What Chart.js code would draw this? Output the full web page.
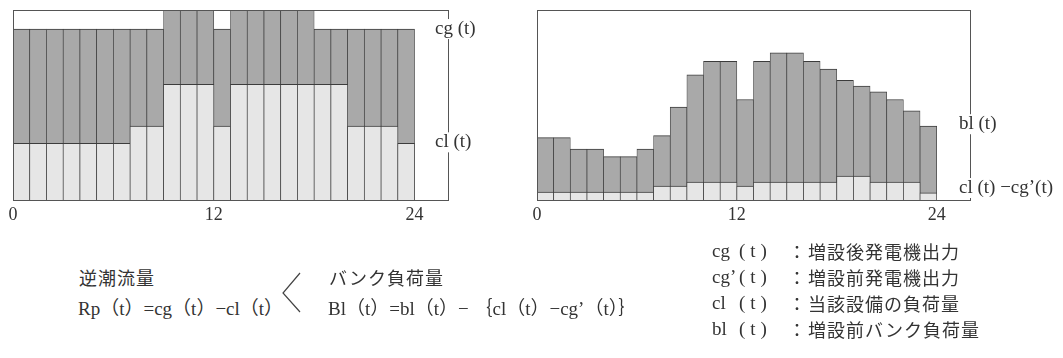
<!DOCTYPE html>
<html>
<head>
<meta charset="utf-8">
<script src="https://cdn.jsdelivr.net/npm/chart.js@4"></script>
<style>
  body { margin: 0; background: #fff; width: 1063px; height: 358px; overflow: hidden; position: relative; }
  canvas { position: absolute; top: 0; }
  .t { position: absolute; color: #333; font-family: "Liberation Serif", "Noto Sans CJK JP", serif; font-size: 19px; white-space: nowrap; line-height: 20px; }
  .jp { font-family: "Noto Sans CJK JP", sans-serif; font-size: 18px; letter-spacing: 1px; }
</style>
</head>
<body>
<canvas id="leftChart" width="530" height="230" style="left:0px"></canvas>
<canvas id="rightChart" width="539" height="230" style="left:524px"></canvas>

<div class="t jp" style="left:79px; top:267px;">逆潮流量</div>
<div class="t" style="left:78px; top:299px;">Rp（t）=cg（t）−cl（t）</div>
<svg style="position:absolute; left:0; top:0;" width="1063" height="358">
  <polyline points="300,273 283,293 300,312" fill="none" stroke="#444" stroke-width="1.2"/>
</svg>
<div class="t jp" style="left:329px; top:267px;">バンク負荷量</div>
<div class="t" style="left:328px; top:299px;">Bl（t）=bl（t）− ｛cl（t）−cg’（t）｝</div>

<div id="legendBox"></div>

<script>
// hours 0..23, each bar covers one hour
var hours = [0,1,2,3,4,5,6,7,8,9,10,11,12,13,14,15,16,17,18,19,20,21,22,23];
var tickLabels = [0, 12, 24];

// left: cl(t) and cg(t)
var clLeft = [30,30,30,30,30,30,30,39,39,61,61,61,39,61,61,61,61,61,61,61,39,39,39,30];
var cgLeft = [90,90,90,90,90,90,90,90,90,100,100,100,90,100,100,100,100,100,90,90,90,90,90,90];

// right: bl(t) and cl(t)-cg'(t)
var blRight = [33,33,27,27,23,23,27,34,49,66,73,73,53,73,77.5,77.5,73,69,63,60,57,53,47,39];
var netRight = [4.4,4.4,4.4,4.4,4.4,4.4,4.4,7.5,7.5,9.6,9.6,9.6,7.5,9.6,9.6,9.6,9.6,9.6,12.8,12.8,9.6,9.6,9.6,4];

// legend text under the right chart
var legendKeys = ['cg', 'cg’', 'cl', 'bl'];
var legendDescs = ['増設後発電機出力', '増設前発電機出力', '当該設備の負荷量', '増設前バンク負荷量'];

var LINE = '#3c3c3c';
var DARK = '#a9a9a9';
var LIGHT = '#e6e6e6';
var FONT = '"Liberation Serif", "Noto Sans CJK JP", serif';

var framePlugin = {
    id: 'frame',
    afterDatasetsDraw: function(chart, args, opts) {
        var ctx = chart.ctx;
        var a = chart.chartArea;
        ctx.save();
        ctx.strokeStyle = '#555';
        ctx.lineWidth = 1;
        ctx.strokeRect(Math.round(a.left) + 0.5, Math.round(a.top) + 0.5,
                       Math.round(a.right - a.left), Math.round(a.bottom - a.top));
        ctx.font = '19px ' + FONT;
        ctx.textBaseline = 'middle';
        opts.labels.forEach(function(l) {
            var y = chart.scales.y.getPixelForValue(l.value);
            var x = a.right - opts.offset;
            var w = ctx.measureText(l.text).width;
            ctx.fillStyle = '#fff';
            ctx.fillRect(x - 2, y - 10, w + 4, 20);
            ctx.fillStyle = '#333';
            ctx.fillText(l.text, x, y);
        });
        ctx.restore();
    }
};

function barSet(values, color) {
    return {
        data: values.map(function(v, i) { return { x: hours[i] + 0.5, y: v }; }),
        backgroundColor: color,
        borderColor: LINE,
        borderWidth: { top: 1, left: 0.7, right: 0.7, bottom: 0 },
        borderSkipped: 'start',
        grouped: false,
        categoryPercentage: 1,
        barPercentage: 1
    };
}

function makeChart(id, low, high, labels, padRight, offset) {
    var ctx = document.getElementById(id).getContext('2d');
    return new Chart(ctx, {
        type: 'bar',
        data: { datasets: [barSet(low, LIGHT), barSet(high, DARK)] },
        options: {
            responsive: false,
            animation: false,
            layout: { padding: { left: 13, right: padRight, top: 10, bottom: 0 } },
            scales: {
                x: {
                    type: 'linear',
                    offset: false,
                    min: 0,
                    max: 26,
                    grid: { display: false, drawTicks: false },
                    border: { display: false },
                    afterBuildTicks: function(axis) {
                        axis.ticks = tickLabels.map(function(v) { return { value: v }; });
                    },
                    ticks: { color: '#333', padding: 4, maxRotation: 0, font: { family: FONT, size: 18 } }
                },
                y: { min: 0, max: 100, display: false }
            },
            plugins: {
                legend: { display: false },
                tooltip: { enabled: false },
                frame: { labels: labels, offset: offset }
            }
        },
        plugins: [framePlugin]
    });
}

makeChart('leftChart', clLeft, cgLeft,
    [{ text: 'cg (t)', value: 90 }, { text: 'cl (t)', value: 30.5 }], 82, 13);
makeChart('rightChart', netRight, blRight,
    [{ text: 'bl (t)', value: 40 }, { text: 'cl (t) −cg’(t)', value: 6.5 }], 93, 11);

// legend rows
var box = document.getElementById('legendBox');
legendKeys.forEach(function(k, i) {
    var top = 241 + i * 26;
    var html = '<div class="t" style="left:712px; top:' + top + 'px;">' + k + '</div>' +
               '<div class="t" style="left:739px; top:' + top + 'px; letter-spacing:5px;">(t)</div>' +
               '<div class="t jp" style="left:788px; top:' + top + 'px;">：</div>' +
               '<div class="t jp" style="left:808px; top:' + top + 'px;">' + legendDescs[i] + '</div>';
    box.insertAdjacentHTML('beforeend', html);
});
</script>
</body>
</html>
